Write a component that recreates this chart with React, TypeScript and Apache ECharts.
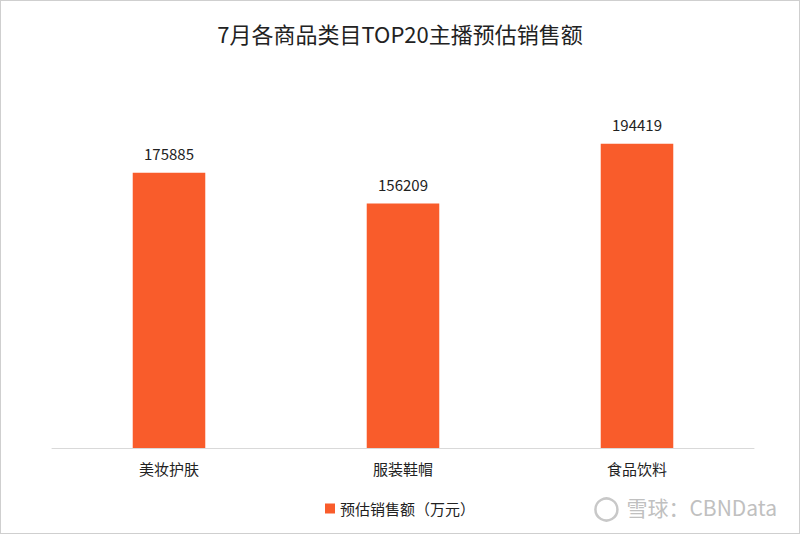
import React, { useEffect, useRef } from "react";
import * as echarts from "echarts";

const categories = ["美妆护肤", "服装鞋帽", "食品饮料"];
const values = [175885, 156209, 194419];
const seriesName = "预估销售额（万元）";
const titleText = "7月各商品类目TOP20主播预估销售额";

export default function App() {
  const ref = useRef<HTMLDivElement>(null);
  useEffect(() => {
    document.body.style.margin = "0";
    const chart = echarts.init(ref.current!, undefined, { renderer: "svg" });
    const font = "'Microsoft YaHei', 'Noto Sans CJK SC', sans-serif";
    chart.setOption({
      animation: false,
      backgroundColor: "#ffffff",
      textStyle: { fontFamily: font },
      title: {
        text: titleText,
        left: "center",
        top: 16,
        textStyle: { fontSize: 22, fontWeight: "normal", color: "#222", fontFamily: font },
      },
      legend: {
        data: [seriesName],
        bottom: 12,
        left: "center",
        icon: "rect",
        itemWidth: 10,
        itemHeight: 10,
        itemGap: 6,
        textStyle: { fontSize: 15, color: "#222", fontFamily: font },
      },
      grid: { left: 51, right: 45, top: 134, bottom: 85, containLabel: false },
      xAxis: {
        type: "category",
        data: categories,
        axisLine: { lineStyle: { color: "#d9d9d9", width: 1 } },
        axisTick: { show: false },
        axisLabel: { fontSize: 15, color: "#222", margin: 13, fontFamily: font },
      },
      yAxis: {
        type: "value",
        min: 0,
        max: 200000,
        show: false,
        splitLine: { show: false },
      },
      series: [
        {
          name: seriesName,
          type: "bar",
          data: values,
          barWidth: "31%",
          itemStyle: { color: "#F95C2B" },
          label: {
            show: true,
            position: "top",
            distance: 12,
            fontSize: 15,
            color: "#222",
            fontFamily: font,
          },
        },
      ],
      graphic: [
        {
          type: "group",
          right: 22,
          bottom: 10,
          children: [
            {
              type: "circle",
              shape: { cx: 12, cy: 13, r: 11 },
              style: { fill: "none", stroke: "#c8c8c8", lineWidth: 2.5 },
            },
            {
              type: "text",
              left: 32,
              top: 0,
              style: {
                text: "雪球：CBNData",
                fontSize: 21,
                fill: "#c0c0c0",
                fontFamily: font,
              },
            },
          ],
        },
      ],
    });
    return () => chart.dispose();
  }, []);
  return (
    <div
      ref={ref}
      style={{
        position: "absolute",
        left: 0,
        top: 0,
        width: 800,
        height: 534,
        border: "1px solid #cfcfcf",
        boxSizing: "border-box",
      }}
    />
  );
}
